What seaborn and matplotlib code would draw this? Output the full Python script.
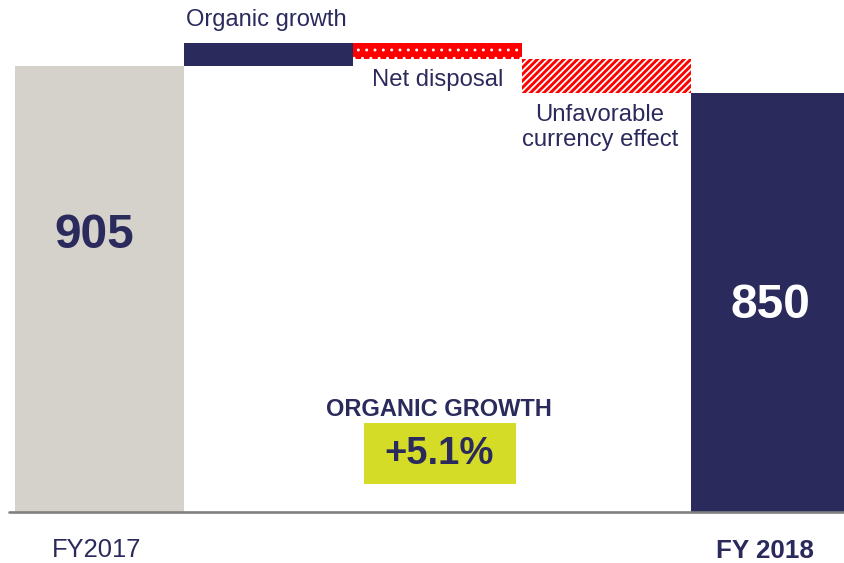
import matplotlib as mpl
import matplotlib.pyplot as plt
import pandas as pd
import seaborn as sns
from matplotlib.patches import Rectangle

# bridge FY2017 -> FY2018
steps = ["FY2017", "Organic growth", "Net disposal", "Unfavorable\ncurrency effect", "FY 2018"]
start_value = 905
organic_growth = 46
net_disposal = -32
currency_effect = -69
end_value = 850
organic_pct = "+5.1%"

NAVY = "#2B2A5C"
GREY = "#D5D2CB"
RED = "#FF0000"
LIME = "#D4DC27"

sns.set_theme(style="white")
plt.rcParams["font.family"] = ["Liberation Sans", "DejaVu Sans"]

fig = plt.figure(figsize=(8.44, 5.63), dpi=100)
ax = fig.add_axes([0, 0, 1, 1])

totals = pd.DataFrame({"step": [steps[0], steps[-1]], "value": [start_value, end_value]})
sns.barplot(
    data=totals, x="step", y="value", hue="step", order=steps,
    palette={steps[0]: GREY, steps[-1]: NAVY}, width=1.0, legend=False,
    linewidth=0, saturation=1, ax=ax,
)

# floating steps
level = start_value
ax.bar(1, organic_growth, bottom=level, width=1.0, color=NAVY, linewidth=0)
level += organic_growth
with mpl.rc_context({"hatch.linewidth": 0.9}):
    ax.bar(2, net_disposal, bottom=level, width=1.0, facecolor=RED,
           edgecolor="white", hatch="..", linewidth=0)
level += net_disposal
with mpl.rc_context({"hatch.linewidth": 1.3}):
    ax.bar(3, currency_effect, bottom=level, width=1.0, facecolor=RED,
           edgecolor="white", hatch="/////", linewidth=0)

ax.set_xlim(-0.589, 4.405)
ax.set_ylim(-103.5, 1039)
ax.axis("off")
ax.axhline(0, xmin=0.011, xmax=1, color="#808080", lw=1.9)

ax.text(0.51, 999, "Organic growth", color=NAVY, fontsize=17, ha="left", va="center")
ax.text(2.0, 877, "Net disposal", color=NAVY, fontsize=17.2, ha="center", va="center")
ax.text(2.96, 780, steps[3], color=NAVY, fontsize=17.2, ha="center", va="center",
        linespacing=1.2)

ax.text(-0.03, 562, str(start_value), color=NAVY, fontsize=34.5, fontweight="bold",
        ha="center", va="center")
ax.text(3.97, 420, str(end_value), color="white", fontsize=34.5, fontweight="bold",
        ha="center", va="center")

ax.text(2.01, 208, "ORGANIC GROWTH", color=NAVY, fontsize=17, fontweight="bold",
        ha="center", va="center")
ax.add_patch(Rectangle((1.565, 57), 0.9, 124, color=LIME, lw=0))
ax.text(2.01, 117, organic_pct, color=NAVY, fontsize=27.5, fontweight="bold",
        ha="center", va="center")

ax.text(-0.015, -77, steps[0], color=NAVY, fontsize=18.4, ha="center", va="center")
ax.text(3.94, -79, steps[-1], color=NAVY, fontsize=18.7, fontweight="bold",
        ha="center", va="center")

fig.savefig("out.png", dpi=100)
